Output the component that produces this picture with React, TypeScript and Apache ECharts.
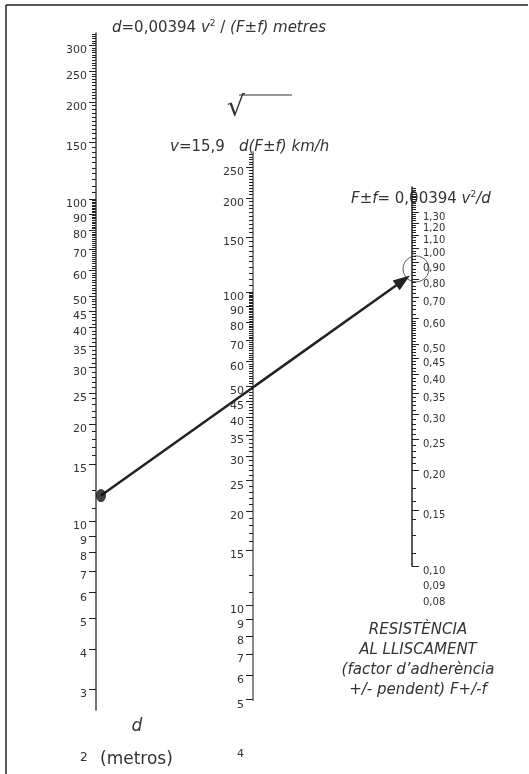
import React, { useEffect, useRef } from "react";
import * as echarts from "echarts";

// ---------- data ----------
const dLabels = [300, 250, 200, 150, 100, 90, 80, 70, 60, 50, 45, 40, 35, 30, 25, 20, 15, 10, 9, 8, 7, 6, 5, 4, 3];
const vLabels = [250, 200, 150, 100, 90, 80, 70, 60, 50, 45, 40, 35, 30, 25, 20, 15, 10, 9, 8, 7, 6, 5];
const fLabels = [1.3, 1.2, 1.1, 1.0, 0.9, 0.8, 0.7, 0.6, 0.5, 0.45, 0.4, 0.35, 0.3, 0.25, 0.2, 0.15, 0.1];
const fExtraLabels = [0.09, 0.08];
const dExtent = [2.59, 328];
const vExtent = [4.99, 280];
const fExtent = [0.1, 1.556];
const dPoint = 12; // metres
const fPoint = 0.82; // arrow end
const fCircle = 0.86;

function range(a: number, b: number, step: number): number[] {
  const out: number[] = [];
  for (let v = a; v <= b + step / 1000; v += step) out.push(Math.round(v * 1000) / 1000);
  return out;
}
const dMinor = [...range(105, 325, 5), ...range(51, 99, 1), ...range(21, 49, 1), 19, 18, 17, 16, 12.5, 11];
const vMinor = [...range(105, 275, 5), ...range(51, 99, 1), ...range(21, 49, 1), 19, 18, 17, 16, 12.5, 11];
const fMinor = [...range(1.02, 1.54, 0.02), ...range(0.62, 0.98, 0.02), ...range(0.21, 0.59, 0.01), 0.175, 0.16, 0.14, 0.125, 0.11];

const FONT = "DejaVu Sans";
const TXT = "#333";

const fmtInt = (v: number) => String(Math.round(v));
const fmtDec = (v: number) => v.toFixed(2).replace(".", ",");

function axes(gridIndex: number, ext: number[], labels: number[], minor: number[], fmt: (v: number) => string, inside: boolean, line: any, margin: number, fontSize: number) {
  const base = {
    type: "log",
    logBase: 10,
    gridIndex,
    min: ext[0],
    max: ext[1],
    position: "left",
    splitLine: { show: false },
    minorTick: { show: false },
    minorSplitLine: { show: false },
  };
  return [
    {
      ...base,
      axisLine: { show: true, onZero: false, lineStyle: line },
      axisTick: { show: true, inside, length: 7, customValues: labels, lineStyle: { color: "#222", width: 1 } },
      axisLabel: {
        show: true,
        inside,
        margin,
        customValues: labels,
        formatter: (v: number) => fmt(v),
        fontSize,
        lineHeight: 9,
        verticalAlign: "top",
        color: TXT,
        fontFamily: FONT,
      },
    },
    {
      ...base,
      axisLine: { show: false },
      axisTick: { show: true, inside, length: 4, customValues: minor, lineStyle: { color: "#222", width: 1 } },
      axisLabel: { show: false },
    },
  ];
}

const rich = {
  i: { fontStyle: "italic", fontSize: 15, fontFamily: FONT, fill: TXT, lineHeight: 18 },
  n: { fontSize: 15, fontFamily: FONT, fill: TXT, lineHeight: 18 },
  s: { fontSize: 9, fontFamily: FONT, fill: TXT, lineHeight: 8, verticalAlign: "top" },
};

export default function App() {
  const ref = useRef<HTMLDivElement>(null);
  useEffect(() => {
    if (!ref.current) return;
    const chart = echarts.init(ref.current, undefined, { renderer: "svg" });
    const grids = [
      { left: 96, top: 33, width: 20, height: 677 },
      { left: 253, top: 152, width: 20, height: 548 },
      { left: 412, top: 187, width: 20, height: 379 },
    ].map((g) => ({ ...g, containLabel: false, outerBoundsMode: "none" }));
    const xAxis = [0, 1, 2].map((i) => ({ type: "value", gridIndex: i, min: 0, max: 1, show: false }));
    const yAxis = [
      ...axes(0, dExtent, dLabels, dMinor, fmtInt, false, { color: "#444", width: 1.5 }, 9, 11),
      ...axes(1, vExtent, vLabels, vMinor, fmtInt, false, { color: "#888", width: 2 }, 9, 11),
      ...axes(2, fExtent, fLabels, fMinor, fmtDec, true, { color: "#222", width: 1.5 }, 11, 10),
    ];
    chart.setOption({
      animation: false,
      grid: grids,
      xAxis,
      yAxis,
      series: [
        {
          type: "scatter",
          xAxisIndex: 0,
          yAxisIndex: 0,
          symbol: "circle",
          symbolSize: [10, 13],
          itemStyle: { color: "#111" },
          clip: false,
          z: 10,
          data: [[0.25, dPoint]],
        },
        {
          type: "scatter",
          xAxisIndex: 2,
          yAxisIndex: 4,
          symbol: "circle",
          symbolSize: 26,
          itemStyle: { color: "rgba(0,0,0,0)", borderColor: "#333", borderWidth: 1 },
          clip: false,
          data: [[0.2, fCircle]],
        },
      ],
    });

    const start = chart.convertToPixel({ seriesIndex: 0 }, [0.25, dPoint]) as number[];
    const end = chart.convertToPixel({ seriesIndex: 1 }, [-0.1, fPoint]) as number[];
    const dx = end[0] - start[0];
    const dy = end[1] - start[1];
    const len = Math.sqrt(dx * dx + dy * dy);
    const ux = dx / len;
    const uy = dy / len;
    const headL = 17;
    const headW = 6;
    const bx = end[0] - ux * headL;
    const by = end[1] - uy * headL;
    const extra = fExtraLabels.map((v) => {
      const p = chart.convertToPixel({ seriesIndex: 1 }, [0, v]) as number[];
      return {
        type: "text",
        x: p[0] + 11,
        y: p[1] + 5,
        style: { text: fmtDec(v), fontSize: 10, fontFamily: FONT, fill: TXT, verticalAlign: "middle", align: "left" },
      };
    });

    chart.setOption({
      graphic: [
        { type: "line", shape: { x1: 6, y1: 5, x2: 528, y2: 5 }, style: { stroke: "#222", lineWidth: 1.5 } },
        { type: "line", shape: { x1: 6, y1: 5, x2: 6, y2: 774 }, style: { stroke: "#222", lineWidth: 1.5 } },
        {
          type: "text",
          x: 112,
          y: 27,
          style: { text: "{i|d}{n|=0,00394 }{i|v}{s|2}{n| / }{i|(F±f) metres}", rich, verticalAlign: "middle" },
        },
        {
          type: "text",
          x: 227,
          y: 106,
          style: { text: "√", fontSize: 28, fontFamily: FONT, fill: TXT, verticalAlign: "middle" },
        },
        { type: "line", shape: { x1: 239, y1: 95, x2: 292, y2: 95 }, style: { stroke: TXT, lineWidth: 1.2 } },
        {
          type: "text",
          x: 170,
          y: 146,
          style: { text: "{i|v}{n|=15,9}", rich, verticalAlign: "middle" },
        },
        {
          type: "text",
          x: 239,
          y: 146,
          style: { text: "{i|d(F±f) km/h}", rich, verticalAlign: "middle" },
        },
        {
          type: "text",
          x: 351,
          y: 198,
          style: { text: "{i|F±f}{n|= 0,00394 }{i|v}{s|2}{i|/d}", rich, verticalAlign: "middle" },
        },
        {
          type: "text",
          x: 418,
          y: 619,
          style: {
            text: "RESISTÈNCIA\nAL LLISCAMENT\n(factor d’adherència\n+/- pendent) F+/-f",
            fontSize: 15,
            fontStyle: "italic",
            fontFamily: FONT,
            fill: TXT,
            lineHeight: 20,
            align: "center",
            verticalAlign: "top",
          },
        },
        {
          type: "text",
          x: 137,
          y: 725,
          style: { text: "d", fontSize: 17, fontStyle: "italic", fontFamily: FONT, fill: TXT, align: "center", verticalAlign: "middle" },
        },
        {
          type: "text",
          x: 100,
          y: 758,
          style: { text: "(metros)", fontSize: 17, fontFamily: FONT, fill: TXT, verticalAlign: "middle" },
        },
        {
          type: "text",
          x: 80,
          y: 757,
          style: { text: "2", fontSize: 12, fontFamily: FONT, fill: TXT, verticalAlign: "middle" },
        },
        {
          type: "text",
          x: 237,
          y: 753,
          style: { text: "4", fontSize: 11, fontFamily: FONT, fill: TXT, verticalAlign: "middle" },
        },
        ...extra,
        {
          type: "line",
          z: 5,
          shape: { x1: start[0], y1: start[1], x2: bx + ux * 2, y2: by + uy * 2 },
          style: { stroke: "#222", lineWidth: 2.5 },
        },
        {
          type: "polygon",
          z: 5,
          shape: {
            points: [
              [end[0], end[1]],
              [bx - uy * headW, by + ux * headW],
              [bx + uy * headW, by - ux * headW],
            ],
          },
          style: { fill: "#222" },
        },
      ],
    });
    return () => chart.dispose();
  }, []);
  return <div ref={ref} style={{ position: "fixed", left: 0, top: 0, width: 529, height: 774 }} />;
}
